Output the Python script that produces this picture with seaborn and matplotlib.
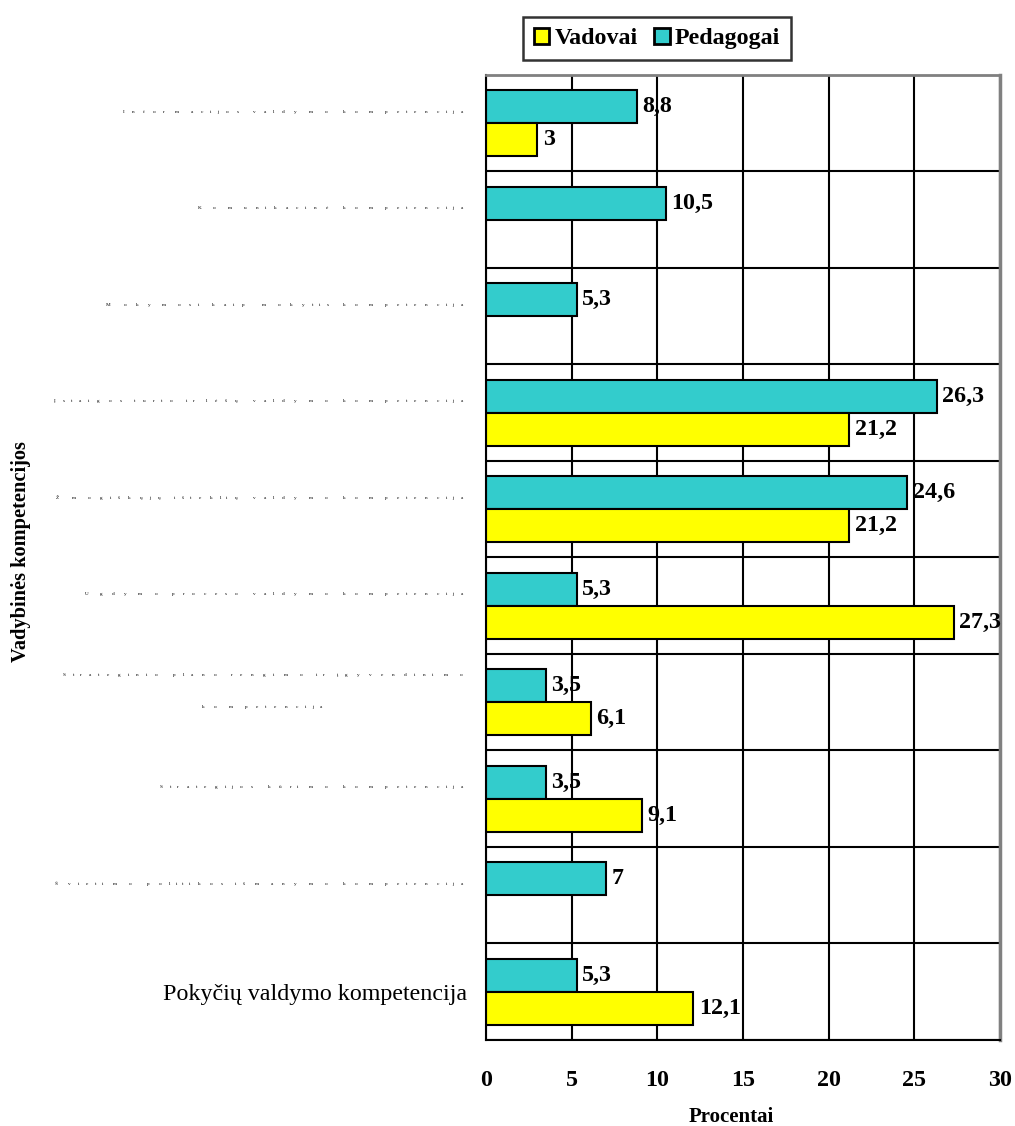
import numpy as np
import pandas as pd
import matplotlib
matplotlib.use("Agg")
import matplotlib.pyplot as plt
from matplotlib.patches import Patch
from matplotlib import font_manager, ft2font
import seaborn as sns

# --- data -----------------------------------------------------------------
categories = [
    "Informacijos valdymo kompetencija",
    "Komunikacinė kompetencija",
    "Mokymosi kaip mokytis kompetencija",
    "Įstaigos turto ir lėšų valdymo kompetencija",
    "Žmogiškųjų išteklių valdymo kompetencija",
    "Ugdymo proceso valdymo kompetencija",
    "Strateginio plano rengimo ir įgyvendinimo\nkompetencija",
    "Strategijos kūrimo kompetencija",
    "Švietimo politikos išmanymo kompetencija",
    "Pokyčių valdymo kompetencija",
]
pedagogai = [8.8, 10.5, 5.3, 26.3, 24.6, 5.3, 3.5, 3.5, 7.0, 5.3]
vadovai = [3.0, None, None, 21.2, 21.2, 27.3, 6.1, 9.1, None, 12.1]
groups = ["Vadovai", "Pedagogai"]
colors = {"Vadovai": "#FFFF00", "Pedagogai": "#33CCCC"}
x_ticks = [0, 5, 10, 15, 20, 25, 30]

rows = []
for cat, p, v in zip(categories, pedagogai, vadovai):
    rows.append({"kategorija": cat, "grupe": "Pedagogai", "procentai": p})
    if v is not None:
        rows.append({"kategorija": cat, "grupe": "Vadovai", "procentai": v})
df = pd.DataFrame(rows)

# --- style ----------------------------------------------------------------
sns.set_style("white")
plt.rcParams["font.family"] = ["Liberation Serif", "DejaVu Serif"]
plt.rcParams["text.color"] = "black"
plt.rcParams["axes.labelcolor"] = "black"
plt.rcParams["xtick.color"] = "black"
plt.rcParams["ytick.color"] = "black"
FS = 17.3

fig = plt.figure(figsize=(10.15, 11.26), dpi=100)
ax = fig.add_axes([486 / 1015, 1 - 1040 / 1126, 514 / 1015, 965 / 1126])

sns.barplot(
    data=df, y="kategorija", x="procentai", hue="grupe",
    order=categories, hue_order=["Pedagogai", "Vadovai"],
    palette=colors, saturation=1, width=0.68, edgecolor="black",
    linewidth=1.5, orient="h", errorbar=None, legend=False, ax=ax,
)

n = len(categories)
ax.set_xlim(0, 30)
ax.set_xticks(x_ticks)
ax.set_xticklabels([str(t) for t in x_ticks], fontsize=FS, fontweight="bold")
ax.set_yticks(np.arange(-0.5, n, 1.0))
ax.set_yticklabels([])
ax.set_ylim(n - 0.5, -0.5)

ax.set_axisbelow(True)
ax.grid(True, axis="both", color="black", linewidth=1.5)
ax.tick_params(axis="x", direction="inout", length=10, width=1.5, pad=16.5,
               colors="black")
ax.tick_params(axis="y", direction="out", length=6, width=1.5, colors="black")
for side in ("left", "bottom"):
    ax.spines[side].set_color("black")
    ax.spines[side].set_linewidth(1.5)
ax.spines["top"].set_color("#808080")
ax.spines["top"].set_linewidth(2.0)
ax.spines["right"].set_color("#808080")
ax.spines["right"].set_linewidth(2.5)

# value labels at the bar ends
for cont in ax.containers:
    ax.bar_label(cont, fmt=lambda v: f"{v:g}".replace(".", ","), padding=4,
                 fontsize=FS, fontweight="bold", color="black")

ax.set_xlabel("Procentai", fontsize=15, fontweight="bold")
ax.xaxis.set_label_coords(0.477, -0.069)
ax.set_ylabel("Vadybinės kompetencijos", fontsize=14.7, fontweight="bold")
ax.yaxis.set_label_coords(-0.885, 0.506)

# --- category names: tiny glyphs laid out on the metrics of the full-size font
label_fp = font_manager.FontProperties(family="Liberation Serif", size=FS)
ft = ft2font.FT2Font(font_manager.findfont(label_fp))
ft.set_size(FS, 72)


def advances(s):
    return [ft.load_char(ord(c)).linearHoriAdvance / 65536.0 for c in s]


right_pt = -(486 - 467) * 0.72
line_pt = 32 * 0.72
ytrans = ax.get_yaxis_transform()
for i, cat in enumerate(categories):
    if i == n - 1:
        ax.annotate(cat, xy=(0, i), xycoords=ytrans, xytext=(right_pt, -5.8),
                    textcoords="offset points", ha="right", va="baseline",
                    fontsize=FS, color="black")
        continue
    lines = cat.split("\n")
    widths = [sum(advances(l)) for l in lines]
    block = max(widths)
    centre = right_pt - block / 2
    nl = len(lines)
    for k, (line, w) in enumerate(zip(lines, widths)):
        dy = 7.4 + ((nl - 1) / 2 - k) * line_pt
        x0 = centre - w / 2
        acc = 0.0
        for c, a in zip(line, advances(line)):
            if not c.isspace():
                ax.annotate(c, xy=(0, i), xycoords=ytrans,
                            xytext=(x0 + acc + a / 2, dy),
                            textcoords="offset points", ha="center",
                            va="baseline", fontsize=3.8, color="black")
            acc += a

# --- legend -----------------------------------------------------------------
handles = [Patch(facecolor=colors[g], edgecolor="black", linewidth=2.0, label=g)
           for g in groups]
leg = fig.legend(handles=handles, loc="center",
                 bbox_to_anchor=(657 / 1015, 1 - 38.5 / 1126), ncol=2,
                 frameon=True, fancybox=False, edgecolor="black",
                 prop={"size": FS, "weight": "bold"},
                 handlelength=0.65, handleheight=0.65, handletextpad=0.2,
                 columnspacing=0.7, borderpad=0.45, borderaxespad=0)
leg.get_frame().set_linewidth(1.8)

fig.savefig("out.png", dpi=100)
